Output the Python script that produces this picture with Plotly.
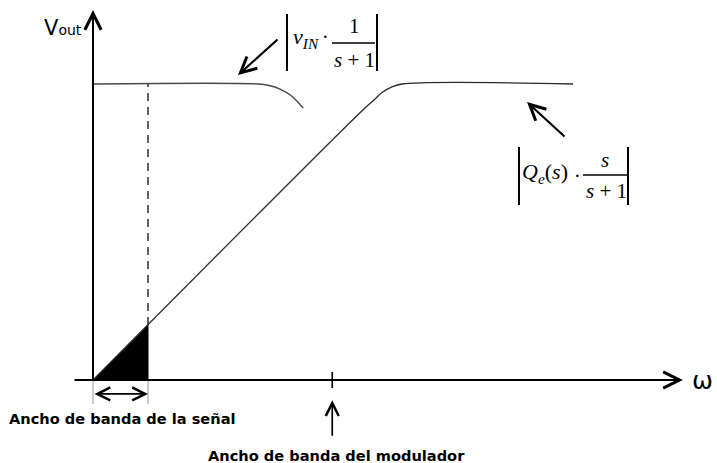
import numpy as np
import plotly.graph_objects as go

W, H = 717, 463

# Frequency axis in units of the signal bandwidth, amplitude normalised to the passband level
signal_bw = 1.0
modulator_bw = 4.35
level = 1.0

# |v_IN / (s+1)|: flat passband then roll-off (drawn partially)
signal_w = [0.0, 3.0, 3.2, 3.4, 3.6, 3.82]
signal_v = [1.0, 1.0, 0.995, 0.983, 0.961, 0.919]

# |Q_e(s) s/(s+1)|: rising noise that saturates at the passband level
noise_w = [0.0, 4.945, 5.127, 5.255, 5.436, 5.618, 8.727]
noise_v = [0.0, 0.919, 0.949, 0.971, 0.990, 1.0, 1.0]

# axis extents
w_min, w_max = -0.364, 10.727
v_top = 1.25

# in-band noise level at the edge of the signal band
v_edge = float(np.interp(signal_bw, noise_w, noise_v))

x_range = [-93 / 55, 624 / 55]
y_range = [-83 / 296, 380 / 296]


def paper(px, py):
    return px / W, 1 - py / H


fig = go.Figure()

# shaded in-band noise
fig.add_trace(go.Scatter(
    x=[0, signal_bw, signal_bw, 0], y=[0, 0, v_edge, 0],
    fill="toself", fillcolor="black", mode="lines",
    line=dict(color="black", width=1), hoverinfo="skip"))

# signal bandwidth marker (dashed)
fig.add_trace(go.Scatter(
    x=[signal_bw, signal_bw], y=[v_edge, level], mode="lines",
    line=dict(color="#3a3a3a", width=1.6, dash="8px,6px"), hoverinfo="skip"))

# signal curve
fig.add_trace(go.Scatter(
    x=signal_w, y=signal_v, mode="lines", line_shape="spline",
    line=dict(color="#4a4a4a", width=1.4), hoverinfo="skip"))

# noise curve
fig.add_trace(go.Scatter(
    x=noise_w, y=noise_v, mode="lines", line_shape="spline",
    line=dict(color="#2a2a2a", width=1.3), hoverinfo="skip"))

# thin guides below the axis at the band edges
for w in (0.0, signal_bw):
    fig.add_trace(go.Scatter(
        x=[w, w], y=[0, -0.081], mode="lines",
        line=dict(color="#9a9a9a", width=1), hoverinfo="skip"))

# tick at the modulator bandwidth
fig.add_trace(go.Scatter(
    x=[modulator_bw, modulator_bw], y=[0.027, -0.027], mode="lines",
    line=dict(color="black", width=1.6), hoverinfo="skip"))

ann = []


def arrow(x, y, ax, ay, width, size, both=False):
    d = dict(x=x, y=y, ax=ax, ay=ay, xref="x", yref="y", axref="x", ayref="y",
             text="", showarrow=True, arrowhead=5, arrowsize=size,
             arrowwidth=width, arrowcolor="black")
    if both:
        d.update(arrowside="end+start", startarrowhead=5, startarrowsize=size)
    ann.append(d)


# axes with open arrowheads
arrow(w_max, 0, w_min, 0, 2, 1.6)
arrow(0, v_top, 0, -0.004, 2, 1.6)

# signal bandwidth double arrow
arrow(signal_bw, -0.047, 0, -0.047, 1.7, 1.5, both=True)

# modulator bandwidth pointer
arrow(modulator_bw, -0.068, modulator_bw, -0.193, 1.7, 1.5)

# pointers to the curves
arrow(2.636, 1.030, 3.382, 1.155, 2.2, 1.4)
arrow(7.891, 0.939, 8.6, 0.818, 2.2, 1.4)

sans = dict(family="DejaVu Sans", color="black")
serif = dict(family="Liberation Serif", color="black")


def label(px, py, text, font, size, xanchor="center", yanchor="middle"):
    x, y = paper(px, py)
    ann.append(dict(x=x, y=y, xref="paper", yref="paper", text=text,
                    showarrow=False, xanchor=xanchor, yanchor=yanchor,
                    font=dict(size=size, **font)))


# axis titles
label(84, 28, "V<span style='font-size:14px'>out</span>", sans, 21, xanchor="right")
label(702, 380, "ω", sans, 25)

# band labels
label(122, 418, "<b>Ancho de banda de la señal</b>", sans, 14.6)
label(336, 455, "<b>Ancho de banda del modulador</b>", sans, 14.6)

# |v_IN · 1/(s+1)|
label(291, 38, "<i>v</i><sub><i>IN</i></sub>", serif, 22, xanchor="left")
label(325, 37, "·", serif, 20)
label(354, 26, "1", serif, 21)
label(354, 60, "<i>s</i> + 1", serif, 21)

# |Q_e(s) · s/(s+1)|
label(520, 173, "<i>Q</i><sub><i>e</i></sub>(<i>s</i>)", serif, 22, xanchor="left")
label(577, 176, "·", serif, 20)
label(605, 160, "<i>s</i>", serif, 21)
label(606, 191, "<i>s</i> + 1", serif, 21)

shapes = []


def seg(x0, y0, x1, y1, width):
    a, b = paper(x0, y0)
    c, d = paper(x1, y1)
    shapes.append(dict(type="line", xref="paper", yref="paper",
                       x0=a, y0=b, x1=c, y1=d,
                       line=dict(color="black", width=width)))


# absolute-value bars and fraction rules
seg(287, 14, 287, 71, 2)
seg(377, 14, 377, 71, 2)
seg(332, 43, 375, 43, 1.5)
seg(519, 147, 519, 205, 2)
seg(628, 147, 628, 205, 2)
seg(583, 175, 627, 175, 1.5)

fig.update_layout(
    width=W, height=H,
    margin=dict(l=0, r=0, t=0, b=0),
    paper_bgcolor="white", plot_bgcolor="white",
    showlegend=False,
    xaxis=dict(range=x_range, visible=False, fixedrange=True),
    yaxis=dict(range=y_range, visible=False, fixedrange=True),
    annotations=ann, shapes=shapes,
)

fig.write_html("out.html")
